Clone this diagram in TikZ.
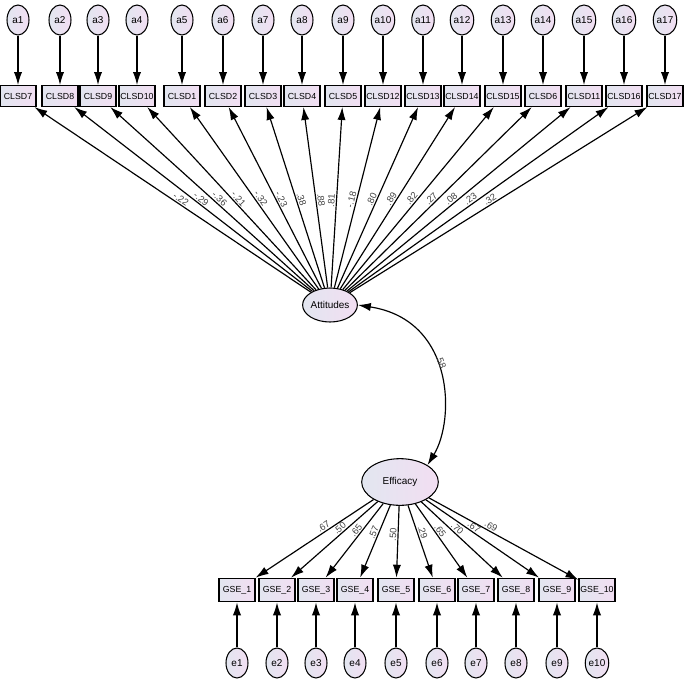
\documentclass[tikz,border=0pt]{standalone}
\usepackage{fontspec}
\setmainfont{Liberation Sans}
\usetikzlibrary{arrows.meta,shapes.geometric}
\definecolor{lc}{RGB}{226,230,240}
\definecolor{rc}{RGB}{242,222,242}
\begin{document}
\begin{tikzpicture}[x=0.03cm,y=-0.03cm,
  lat/.style={ellipse,draw,line width=0.9pt,left color=lc,right color=rc,inner sep=0pt,font=\fontsize{8.5}{9}\selectfont},
  err/.style={lat,minimum width=0.66cm,minimum height=0.9cm},
  obs/.style={rectangle,draw,line width=1.2pt,left color=lc,right color=rc,minimum width=1.08cm,minimum height=0.62cm,inner sep=1pt,font=\fontsize{7.5}{9}\selectfont},
  arr/.style={line width=1pt,-{Latex[length=11pt,width=7pt]}},
  lab/.style={font=\fontsize{8}{9}\selectfont,sloped,inner sep=1pt,text=black!75}]
\useasboundingbox (0,0) rectangle (685,687);
% top
\foreach \x/\a/\c in {18/a1/CLSD7,60/a2/CLSD8,98/a3/CLSD9,137/a4/CLSD10,182/a5/CLSD1,223/a6/CLSD2,263/a7/CLSD3,302/a8/CLSD4,343/a9/CLSD5,383/a10/CLSD12,423/a11/CLSD13,462/a12/CLSD14,503/a13/CLSD15,543/a14/CLSD6,584/a15/CLSD11,624/a16/CLSD16,665/a17/CLSD17}{
  \node[err] (\a) at (\x,20) {\a};
  \node[obs] (\c) at (\x,96) {\c};
  \draw[arr] (\a) -- (\c);
}
\node[lat,minimum width=1.5cm,minimum height=1.02cm] (att) at (330,305) {Attitudes};
\foreach \c/\l in {CLSD7/-.22,CLSD8/-.29,CLSD9/-.36,CLSD10/-.21,CLSD1/-.32,CLSD2/-.23,CLSD3/.38,CLSD4/.88,CLSD5/.81,CLSD12/-.18,CLSD13/.80,CLSD14/.89,CLSD15/.82,CLSD6/.27,CLSD11/.08,CLSD16/.23,CLSD17/.32}{
  \draw[arr] (att) -- node[lab,pos=0.48,above]{\l} (\c);
}
% bottom
\node[lat,minimum width=2.3cm,minimum height=1.4cm] (eff) at (400,482) {Efficacy};
\draw[line width=1pt,{Latex[length=11pt,width=7pt]}-{Latex[length=11pt,width=7pt]}] (att.east) .. controls (455,320) and (455,420) .. node[lab,pos=0.45,above,sloped]{.58} (eff.north east);
\foreach \i/\x/\l in {1/237/.67,2/277/.50,3/316/.65,4/355/.57,5/396/.50,6/437/.29,7/476/.65,8/516/.70,9/557/.67,10/597/.69}{
  \node[obs,minimum height=0.7cm] (g\i) at (\x,590) {GSE\_\i};
  \node[err] (e\i) at (\x,663) {e\i};
  \draw[arr] (e\i) -- (g\i);
  \draw[arr] (eff) -- node[lab,pos=0.4,above]{\l} (g\i);
}
\end{tikzpicture}
\end{document}
